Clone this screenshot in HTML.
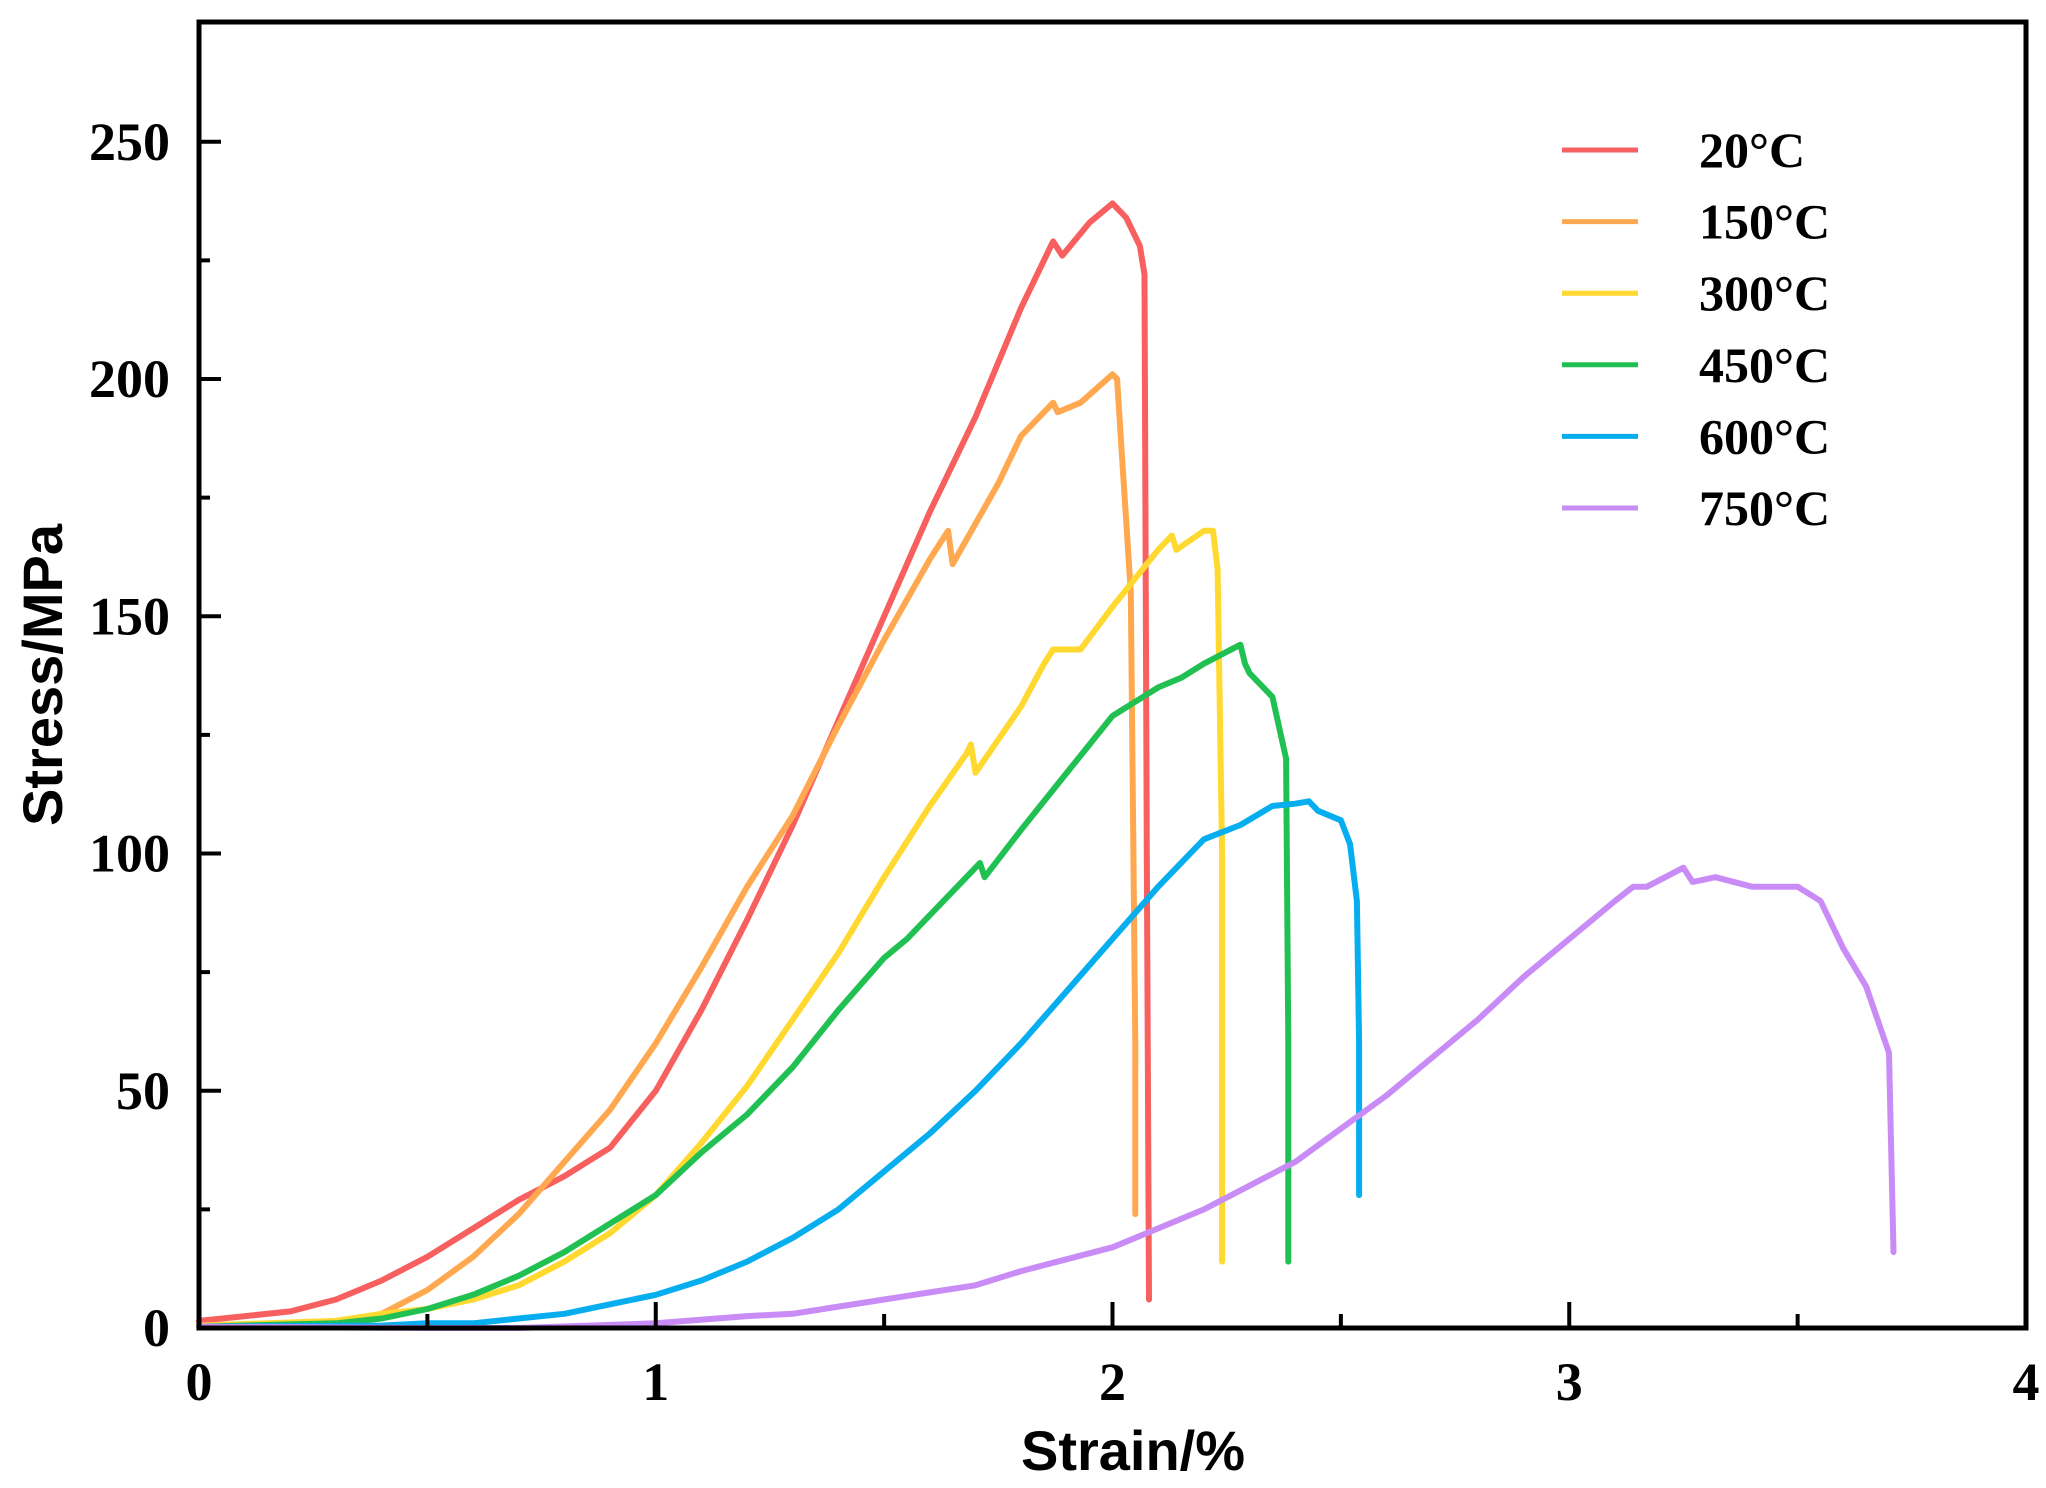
<!DOCTYPE html>
<html><head><meta charset="utf-8"><style>
html,body{margin:0;padding:0;background:#fff}
svg{display:block}
</style></head><body>
<svg id="chart" width="2046" height="1488" viewBox="0 0 2046 1488" xmlns="http://www.w3.org/2000/svg">
<g id="plot"></g>
<text x="1133" y="1470" text-anchor="middle" font-family="Liberation Sans, sans-serif" font-weight="bold" font-size="56">Strain/%</text>
<text transform="translate(62,675) rotate(-90)" text-anchor="middle" font-family="Liberation Sans, sans-serif" font-weight="bold" font-size="56">Stress/MPa</text>
<g id="legend"></g>
</svg>
<script>
const xTicks = [0, 1, 2, 3, 4];
const yTicks = [0, 50, 100, 150, 200, 250];
const seriesNames = ["20°C", "150°C", "300°C", "450°C", "600°C", "750°C"];
const seriesColors = ["#f85f5f", "#ffa84f", "#ffd92f", "#20c152", "#06aeef", "#c98cf6"];
const s20 = [[0,1.5],[0.2,3.5],[0.3,6],[0.4,10],[0.5,15],[0.6,21],[0.7,27],[0.8,32],[0.9,38],[1.0,50],[1.1,67],[1.2,86],[1.3,106],[1.4,128],[1.5,150],[1.6,172],[1.7,192],[1.8,215],[1.87,229],[1.89,226],[1.95,233],[2.0,237],[2.03,234],[2.06,228],[2.07,222],[2.075,100],[2.08,6]];
const s150 = [[0,0.5],[0.3,1],[0.4,3],[0.5,8],[0.6,15],[0.7,24],[0.8,35],[0.9,46],[1.0,60],[1.1,76],[1.2,93],[1.3,108],[1.4,127],[1.5,145],[1.6,162],[1.64,168],[1.65,161],[1.75,178],[1.8,188],[1.87,195],[1.88,193],[1.93,195],[2.0,201],[2.01,200],[2.02,185],[2.04,155],[2.05,60],[2.05,24]];
const s300 = [[0,0.5],[0.3,1.5],[0.4,3],[0.5,4],[0.6,6],[0.7,9],[0.8,14],[0.9,20],[1.0,28],[1.1,39],[1.2,51],[1.3,65],[1.4,79],[1.5,95],[1.6,110],[1.68,121],[1.69,123],[1.7,117],[1.8,131],[1.85,140],[1.87,143],[1.93,143],[2.0,152],[2.1,164],[2.13,167],[2.14,164],[2.2,168],[2.22,168],[2.23,160],[2.24,100],[2.24,14]];
const s450 = [[0,0.3],[0.3,1],[0.4,2],[0.5,4],[0.6,7],[0.7,11],[0.8,16],[0.9,22],[1.0,28],[1.1,37],[1.2,45],[1.3,55],[1.4,67],[1.5,78],[1.55,82],[1.6,87],[1.7,97],[1.71,98],[1.72,95],[1.8,105],[1.9,117],[2.0,129],[2.05,132],[2.1,135],[2.15,137],[2.2,140],[2.28,144],[2.29,140],[2.3,138],[2.35,133],[2.38,120],[2.385,60],[2.385,14]];
const s600 = [[0,0.3],[0.4,0.5],[0.5,1],[0.6,1],[0.7,2],[0.8,3],[0.9,5],[1.0,7],[1.1,10],[1.2,14],[1.3,19],[1.4,25],[1.5,33],[1.6,41],[1.7,50],[1.8,60],[1.9,71],[2.0,82],[2.1,93],[2.2,103],[2.28,106],[2.35,110],[2.4,110.5],[2.43,111],[2.45,109],[2.5,107],[2.52,102],[2.535,90],[2.54,60],[2.54,28]];
const s750 = [[0,0.3],[0.5,0],[0.7,0],[1.0,1],[1.2,2.5],[1.3,3],[1.4,4.5],[1.5,6],[1.6,7.5],[1.7,9],[1.8,12],[1.9,14.5],[2.0,17],[2.1,21],[2.2,25],[2.3,30],[2.4,35],[2.5,42],[2.6,49],[2.7,57],[2.8,65],[2.9,74],[3.0,82],[3.1,90],[3.14,93],[3.17,93],[3.25,97],[3.27,94],[3.32,95],[3.4,93],[3.5,93],[3.55,90],[3.6,80],[3.65,72],[3.7,58],[3.71,16]];
const allSeries = [s20, s150, s300, s450, s600, s750];

const NS = "http://www.w3.org/2000/svg";
const X0 = 199, X1 = 2026, YB = 1328, YT = 22;
function xs(v){ return X0 + v * (X1 - X0) / 4; }
function ys(v){ return YB - v * 4.745; }
function mk(tag, attrs, parent){ const e = document.createElementNS(NS, tag); for (const k in attrs) e.setAttribute(k, attrs[k]); parent.appendChild(e); return e; }
const plot = document.getElementById('plot');

allSeries.forEach((s, i) => {
  const d = s.map((p, j) => (j ? 'L' : 'M') + xs(p[0]).toFixed(1) + ' ' + ys(p[1]).toFixed(1)).join(' ');
  const path = mk('path', {d: d, fill: 'none', stroke: seriesColors[i], 'stroke-width': 6, 'stroke-linejoin': 'round', 'stroke-linecap': 'round'}, plot);
  
  
});

const frame = mk('rect', {x: X0, y: YT, width: X1 - X0, height: YB - YT, fill: 'none', stroke: '#000', 'stroke-width': 5}, plot);



for (let v = 0; v <= 4.001; v += 0.5) {
  const major = Math.abs(v - Math.round(v)) < 1e-6;
  const t = mk('line', {x1: xs(v), x2: xs(v), y1: YB, y2: YB - (major ? 26 : 14), stroke: '#000', 'stroke-width': 4}, plot);
  
  
}
xTicks.forEach(v => {
  const t = mk('text', {x: xs(v), y: 1400, 'text-anchor': 'middle', 'font-family': 'Liberation Serif, serif', 'font-weight': 'bold', 'font-size': 54}, plot);
  t.textContent = v;
  
  
});
for (let v = 0; v <= 250.01; v += 25) {
  const major = v % 50 === 0;
  const t = mk('line', {x1: X0, x2: X0 + (major ? 22 : 11), y1: ys(v), y2: ys(v), stroke: '#000', 'stroke-width': 4}, plot);
  
  
}
yTicks.forEach(v => {
  const t = mk('text', {x: 170, y: ys(v) + 18, 'text-anchor': 'end', 'font-family': 'Liberation Serif, serif', 'font-weight': 'bold', 'font-size': 54}, plot);
  t.textContent = v;
  
  
});

const legend = document.getElementById('legend');
seriesNames.forEach((n, i) => {
  const y = 150 + i * 71.6;
  const g = mk('g', {}, legend);
  
  
  mk('line', {x1: 1562, x2: 1638, y1: y, y2: y, stroke: seriesColors[i], 'stroke-width': 5}, g);
  const t = mk('text', {x: 1699, y: y + 17, 'font-family': 'Liberation Serif, serif', 'font-weight': 'bold', 'font-size': 50}, g);
  t.textContent = n;
});
</script>
</body></html>
